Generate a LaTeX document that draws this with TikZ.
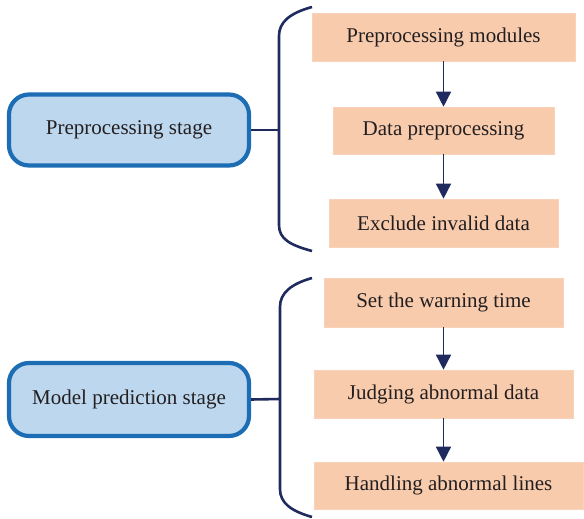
\documentclass[tikz,border=0pt]{standalone}
\usepackage{fontspec}
\setmainfont{Liberation Serif}
\usetikzlibrary{arrows.meta}
\definecolor{navy}{HTML}{1F2A5E}
\definecolor{stageblue}{HTML}{1C6DB4}
\definecolor{stagefill}{HTML}{BDD7EE}
\definecolor{peach}{HTML}{F8CBAD}
\definecolor{txt}{HTML}{231F20}
\tikzset{
  stagebox/.style={draw=stageblue, line width=4.2pt, fill=stagefill, rounded corners=20pt,
    minimum width=240pt, minimum height=71pt, text=txt, font=\fontsize{21}{24}\selectfont},
  taskbox/.style={fill=peach, draw=peach!85!white, line width=0.6pt, inner sep=0pt,
    minimum height=48pt, text=txt, font=\fontsize{21}{24}\selectfont},
  brace/.style={draw=navy, line width=2.6pt},
  flow/.style={draw=navy, line width=1.5pt, -{Triangle[length=15pt,width=15pt]}}
}
\begin{document}
\begin{tikzpicture}[x=1pt,y=-1pt]
\useasboundingbox (0,0) rectangle (584,519);

% first stage
\node[stagebox] (s1) at (129,130) {Preprocessing stage};
\node[taskbox, minimum width=263pt] (a1) at (443.5,37) {Preprocessing modules};
\node[taskbox, minimum width=221pt, minimum height=47pt] (a2) at (443.5,130.5) {Data preprocessing};
\node[taskbox, minimum width=229pt] (a3) at (443.5,223) {Exclude invalid data};
\draw[flow] (a1) -- (a2);
\draw[flow] (a2) -- (a3);

\coordinate (b1top) at (312,7);
\coordinate (b1mid) at (279,130);
\coordinate (b1bot) at (312,251);
\draw[brace] (b1top) .. controls (290,13) and (279,22) .. (279,36)
  -- (279,225) .. controls (279,239) and (290,245) .. (b1bot);
\draw[brace] (s1.east) -- (b1mid);

% second stage
\node[stagebox, minimum height=73pt] (s2) at (129,399.5) {Model prediction stage};
\node[taskbox, minimum width=239pt, minimum height=49pt] (c1) at (443.5,302.5) {Set the warning time};
\node[taskbox, minimum width=259pt] (c2) at (443.5,394) {Judging abnormal data};
\node[taskbox, minimum width=269pt, minimum height=47pt] (c3) at (448.5,485.5) {Handling abnormal lines};
\draw[flow] (c1) -- (c2);
\draw[flow] (c2.south) -- (c2.south |- c3.north);

\coordinate (b2top) at (312,278);
\coordinate (b2mid) at (280,399);
\coordinate (b2bot) at (312,517);
\draw[brace] (b2top) .. controls (291,284) and (280,293) .. (280,307)
  -- (280,489) .. controls (280,503) and (291,511) .. (b2bot);
\draw[brace] (s2.east) -- (b2mid);
\end{tikzpicture}
\end{document}
